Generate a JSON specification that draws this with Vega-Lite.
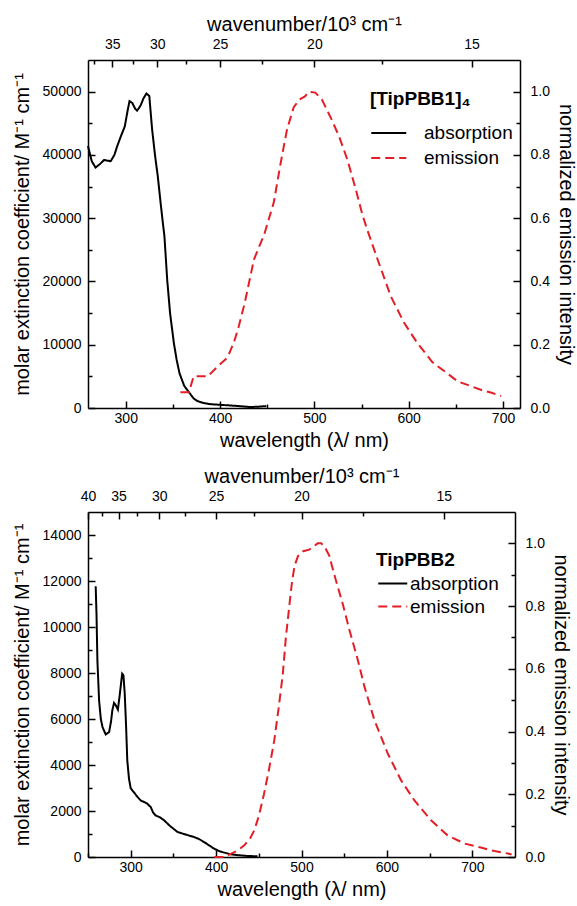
{
  "$schema": "https://vega.github.io/schema/vega-lite/v6.json",
  "padding": {"left": 12, "top": 14, "right": 5, "bottom": 5},
  "datasets": {
    "abs1": [
      {"wl":260,"v":41400,"series":"absorption"},{"wl":264,"v":39000,"series":"absorption"},{"wl":268,"v":38000,"series":"absorption"},{"wl":273,"v":38600,"series":"absorption"},{"wl":277,"v":39200,"series":"absorption"},{"wl":284,"v":39000,"series":"absorption"},{"wl":288,"v":40000,"series":"absorption"},{"wl":291,"v":41400,"series":"absorption"},{"wl":295,"v":43000,"series":"absorption"},{"wl":299,"v":44500,"series":"absorption"},{"wl":302,"v":47000,"series":"absorption"},{"wl":304,"v":48500,"series":"absorption"},{"wl":307,"v":48200,"series":"absorption"},{"wl":310,"v":47300,"series":"absorption"},{"wl":312,"v":47000,"series":"absorption"},{"wl":314,"v":47400,"series":"absorption"},{"wl":316,"v":47900,"series":"absorption"},{"wl":319,"v":49000,"series":"absorption"},{"wl":322,"v":49700,"series":"absorption"},{"wl":325,"v":49300,"series":"absorption"},{"wl":328,"v":44000,"series":"absorption"},{"wl":331,"v":40000,"series":"absorption"},{"wl":334,"v":36600,"series":"absorption"},{"wl":337,"v":32400,"series":"absorption"},{"wl":339,"v":29700,"series":"absorption"},{"wl":341,"v":27200,"series":"absorption"},{"wl":344,"v":20200,"series":"absorption"},{"wl":347,"v":15000,"series":"absorption"},{"wl":351,"v":10300,"series":"absorption"},{"wl":354,"v":7600,"series":"absorption"},{"wl":357,"v":5500,"series":"absorption"},{"wl":362,"v":3500,"series":"absorption"},{"wl":365.5,"v":2800,"series":"absorption"},{"wl":369,"v":2100,"series":"absorption"},{"wl":372,"v":1500,"series":"absorption"},{"wl":376,"v":1100,"series":"absorption"},{"wl":382,"v":800,"series":"absorption"},{"wl":390,"v":600,"series":"absorption"},{"wl":400,"v":500,"series":"absorption"},{"wl":411,"v":400,"series":"absorption"},{"wl":420,"v":300,"series":"absorption"},{"wl":432,"v":150,"series":"absorption"},{"wl":440,"v":200,"series":"absorption"},{"wl":449,"v":300,"series":"absorption"}
    ],
    "em1": [
      {"wl":358,"v":0.05,"series":"emission"},{"wl":367,"v":0.05,"series":"emission"},{"wl":372,"v":0.10,"series":"emission"},{"wl":380,"v":0.10,"series":"emission"},{"wl":387,"v":0.10,"series":"emission"},{"wl":397,"v":0.13,"series":"emission"},{"wl":408,"v":0.16,"series":"emission"},{"wl":415,"v":0.21,"series":"emission"},{"wl":420,"v":0.26,"series":"emission"},{"wl":426,"v":0.33,"series":"emission"},{"wl":436,"v":0.47,"series":"emission"},{"wl":447,"v":0.55,"series":"emission"},{"wl":457,"v":0.65,"series":"emission"},{"wl":464,"v":0.77,"series":"emission"},{"wl":471,"v":0.88,"series":"emission"},{"wl":478,"v":0.95,"series":"emission"},{"wl":484,"v":0.975,"series":"emission"},{"wl":490,"v":0.985,"series":"emission"},{"wl":494,"v":1.0,"series":"emission"},{"wl":501,"v":0.997,"series":"emission"},{"wl":508,"v":0.975,"series":"emission"},{"wl":517,"v":0.92,"series":"emission"},{"wl":526,"v":0.86,"series":"emission"},{"wl":535,"v":0.785,"series":"emission"},{"wl":544,"v":0.69,"series":"emission"},{"wl":551,"v":0.61,"series":"emission"},{"wl":556,"v":0.564,"series":"emission"},{"wl":567,"v":0.47,"series":"emission"},{"wl":581,"v":0.353,"series":"emission"},{"wl":595,"v":0.27,"series":"emission"},{"wl":609,"v":0.206,"series":"emission"},{"wl":625,"v":0.145,"series":"emission"},{"wl":638,"v":0.116,"series":"emission"},{"wl":652,"v":0.084,"series":"emission"},{"wl":666,"v":0.069,"series":"emission"},{"wl":678,"v":0.056,"series":"emission"},{"wl":688,"v":0.048,"series":"emission"},{"wl":698,"v":0.038,"series":"emission"}
    ],
    "abs2": [
      {"wl":259,"v":11770,"series":"absorption"},{"wl":260,"v":10500,"series":"absorption"},{"wl":261,"v":8550,"series":"absorption"},{"wl":263,"v":6800,"series":"absorption"},{"wl":265,"v":6000,"series":"absorption"},{"wl":267,"v":5650,"series":"absorption"},{"wl":270.7,"v":5330,"series":"absorption"},{"wl":274.7,"v":5430,"series":"absorption"},{"wl":277,"v":5900,"series":"absorption"},{"wl":278.5,"v":6380,"series":"absorption"},{"wl":280.5,"v":6700,"series":"absorption"},{"wl":282.5,"v":6600,"series":"absorption"},{"wl":285,"v":6410,"series":"absorption"},{"wl":287,"v":7000,"series":"absorption"},{"wl":290,"v":7970,"series":"absorption"},{"wl":291.5,"v":7900,"series":"absorption"},{"wl":293,"v":7110,"series":"absorption"},{"wl":294.5,"v":5800,"series":"absorption"},{"wl":296,"v":4200,"series":"absorption"},{"wl":298,"v":3400,"series":"absorption"},{"wl":300,"v":2990,"series":"absorption"},{"wl":304,"v":2800,"series":"absorption"},{"wl":308,"v":2610,"series":"absorption"},{"wl":312,"v":2450,"series":"absorption"},{"wl":315.7,"v":2390,"series":"absorption"},{"wl":319,"v":2330,"series":"absorption"},{"wl":323.5,"v":2170,"series":"absorption"},{"wl":326,"v":1950,"series":"absorption"},{"wl":329,"v":1810,"series":"absorption"},{"wl":334,"v":1730,"series":"absorption"},{"wl":339,"v":1600,"series":"absorption"},{"wl":346,"v":1350,"series":"absorption"},{"wl":354.7,"v":1090,"series":"absorption"},{"wl":364,"v":980,"series":"absorption"},{"wl":374,"v":870,"series":"absorption"},{"wl":380,"v":780,"series":"absorption"},{"wl":386,"v":650,"series":"absorption"},{"wl":392,"v":500,"series":"absorption"},{"wl":397.8,"v":360,"series":"absorption"},{"wl":404,"v":250,"series":"absorption"},{"wl":409.5,"v":190,"series":"absorption"},{"wl":417,"v":120,"series":"absorption"},{"wl":425,"v":80,"series":"absorption"},{"wl":435,"v":50,"series":"absorption"},{"wl":448.5,"v":30,"series":"absorption"}
    ],
    "em2": [
      {"wl":398,"v":0,"series":"emission"},{"wl":410,"v":0,"series":"emission"},{"wl":417,"v":0.01,"series":"emission"},{"wl":425,"v":0.02,"series":"emission"},{"wl":433,"v":0.037,"series":"emission"},{"wl":440,"v":0.06,"series":"emission"},{"wl":444.7,"v":0.085,"series":"emission"},{"wl":450,"v":0.13,"series":"emission"},{"wl":456,"v":0.2,"series":"emission"},{"wl":462,"v":0.28,"series":"emission"},{"wl":468,"v":0.37,"series":"emission"},{"wl":473,"v":0.47,"series":"emission"},{"wl":478,"v":0.58,"series":"emission"},{"wl":481.7,"v":0.7,"series":"emission"},{"wl":485.7,"v":0.8,"series":"emission"},{"wl":489,"v":0.88,"series":"emission"},{"wl":492,"v":0.93,"series":"emission"},{"wl":496,"v":0.96,"series":"emission"},{"wl":502,"v":0.975,"series":"emission"},{"wl":509,"v":0.98,"series":"emission"},{"wl":514,"v":0.99,"series":"emission"},{"wl":519,"v":1.0,"series":"emission"},{"wl":523,"v":1.0,"series":"emission"},{"wl":527,"v":0.99,"series":"emission"},{"wl":532.6,"v":0.96,"series":"emission"},{"wl":536,"v":0.925,"series":"emission"},{"wl":540,"v":0.885,"series":"emission"},{"wl":548,"v":0.81,"series":"emission"},{"wl":556,"v":0.725,"series":"emission"},{"wl":565.8,"v":0.63,"series":"emission"},{"wl":573.6,"v":0.544,"series":"emission"},{"wl":585.3,"v":0.437,"series":"emission"},{"wl":601,"v":0.33,"series":"emission"},{"wl":616.5,"v":0.245,"series":"emission"},{"wl":632,"v":0.181,"series":"emission"},{"wl":651.7,"v":0.117,"series":"emission"},{"wl":671,"v":0.069,"series":"emission"},{"wl":690.8,"v":0.043,"series":"emission"},{"wl":710,"v":0.03,"series":"emission"},{"wl":726,"v":0.019,"series":"emission"},{"wl":741.7,"v":0.011,"series":"emission"},{"wl":746,"v":0.008,"series":"emission"}
    ]
  },
  "vconcat": [
    {
      "width": 432,
      "height": 348,
      "layer": [
        {
          "data": {"name": "abs1"},
          "mark": {"type": "line", "strokeWidth": 2},
          "encoding": {
            "x": {"field": "wl", "type": "quantitative", "scale": {"domain": [260, 718], "nice": false, "zero": false},
              "axis": {"orient": "bottom", "title": "wavelength (λ/ nm)", "values": [300,350,400,450,500,550,600,650,700],
                "labelExpr": "datum.value % 100 === 0 ? datum.label : ''",
                "tickSize": {"condition": {"test": "datum.value % 100 === 0", "value": -7}, "value": -4},
                "labelPadding": 10, "titlePadding": 2}},
            "y": {"field": "v", "type": "quantitative", "scale": {"domain": [0, 55000], "nice": false},
              "axis": {"orient": "left", "title": "molar extinction coefficient/ M⁻¹ cm⁻¹", "values": [0,5000,10000,15000,20000,25000,30000,35000,40000,45000,50000],
                "labelExpr": "datum.value % 10000 === 0 ? datum.value : ''",
                "tickSize": {"condition": {"test": "datum.value % 10000 === 0", "value": -7}, "value": -4},
                "labelPadding": 14, "titlePadding": 10}},
            "color": {"field": "series", "type": "nominal", "scale": {"domain": ["absorption", "emission"], "range": ["#000000", "#e41e26"]},
              "legend": {"title": "[TipPBB1]₄", "orient": "none", "legendX": 282, "legendY": 30, "symbolType": "M-1,0H3", "symbolSize": 306, "labelOffset": 34, "rowPadding": 5, "titlePadding": 14}},
            "strokeDash": {"field": "series", "type": "nominal", "scale": {"domain": ["absorption", "emission"], "range": [[1, 0], [9, 5]]},
              "legend": {"title": "[TipPBB1]₄", "orient": "none", "legendX": 282, "legendY": 30, "symbolType": "M-1,0H3", "symbolSize": 306, "labelOffset": 34, "rowPadding": 5, "titlePadding": 14}}
          }
        },
        {
          "data": {"name": "em1"},
          "mark": {"type": "line", "strokeWidth": 2},
          "encoding": {
            "x": {"field": "wl", "type": "quantitative", "scale": {"domain": [260, 718], "nice": false, "zero": false},
              "axis": {"orient": "top", "title": "wavenumber/10³ cm⁻¹",
                "values": [266.6667,285.7143,307.6923,333.3333,363.6364,400,444.4444,500,571.4286,666.6667],
                "labelExpr": "abs(10000/datum.value - round(10000/datum.value)) < 0.01 ? '' + round(10000/datum.value) : ''",
                "tickSize": {"condition": {"test": "abs(10000/datum.value - round(10000/datum.value)) < 0.01", "value": -7}, "value": -4},
                "labelPadding": 16, "titlePadding": 0}},
            "y": {"field": "v", "type": "quantitative", "scale": {"domain": [0, 1.1], "nice": false},
              "axis": {"orient": "right", "title": "normalized emission intensity", "values": [0,0.1,0.2,0.3,0.4,0.5,0.6,0.7,0.8,0.9,1.0],
                "labelExpr": "round(datum.value*10) % 2 === 0 ? format(datum.value, '.1f') : ''",
                "tickSize": {"condition": {"test": "round(datum.value*10) % 2 === 0", "value": -7}, "value": -4},
                "labelPadding": 17, "titlePadding": 6}},
            "color": {"field": "series", "type": "nominal"},
            "strokeDash": {"field": "series", "type": "nominal"}
          }
        }
      ],
      "resolve": {"scale": {"x": "independent", "y": "independent"}}
    },
    {
      "width": 427,
      "height": 345,
      "layer": [
        {
          "data": {"name": "abs2"},
          "mark": {"type": "line", "strokeWidth": 2},
          "encoding": {
            "x": {"field": "wl", "type": "quantitative", "scale": {"domain": [250, 750], "nice": false, "zero": false},
              "axis": {"orient": "bottom", "title": "wavelength (λ/ nm)", "values": [250,300,350,400,450,500,550,600,650,700],
                "labelExpr": "datum.value % 100 === 0 ? datum.label : ''",
                "tickSize": {"condition": {"test": "datum.value % 100 === 0", "value": -7}, "value": -4},
                "labelPadding": 10, "titlePadding": 2}},
            "y": {"field": "v", "type": "quantitative", "scale": {"domain": [0, 15000], "nice": false},
              "axis": {"orient": "left", "title": "molar extinction coefficient/ M⁻¹ cm⁻¹", "values": [0,1000,2000,3000,4000,5000,6000,7000,8000,9000,10000,11000,12000,13000,14000],
                "labelExpr": "datum.value % 2000 === 0 ? datum.value : ''",
                "tickSize": {"condition": {"test": "datum.value % 2000 === 0", "value": -7}, "value": -4},
                "labelPadding": 14, "titlePadding": 10}},
            "color": {"field": "series", "type": "nominal", "scale": {"domain": ["absorption", "emission"], "range": ["#000000", "#e41e26"]},
              "legend": {"title": "TipPBB2", "orient": "none", "legendX": 288, "legendY": 39, "symbolType": "M-1,0H3", "symbolSize": 210, "labelOffset": 15, "rowPadding": 3, "titlePadding": 4}},
            "strokeDash": {"field": "series", "type": "nominal", "scale": {"domain": ["absorption", "emission"], "range": [[1, 0], [9, 5]]},
              "legend": {"title": "TipPBB2", "orient": "none", "legendX": 288, "legendY": 39, "symbolType": "M-1,0H3", "symbolSize": 210, "labelOffset": 15, "rowPadding": 3, "titlePadding": 4}}
          }
        },
        {
          "data": {"name": "em2"},
          "mark": {"type": "line", "strokeWidth": 2},
          "encoding": {
            "x": {"field": "wl", "type": "quantitative", "scale": {"domain": [250, 750], "nice": false, "zero": false},
              "axis": {"orient": "top", "title": "wavenumber/10³ cm⁻¹",
                "values": [250,266.6667,285.7143,307.6923,333.3333,363.6364,400,444.4444,500,571.4286,666.6667],
                "labelExpr": "abs(10000/datum.value - round(10000/datum.value)) < 0.01 ? '' + round(10000/datum.value) : ''",
                "tickSize": {"condition": {"test": "abs(10000/datum.value - round(10000/datum.value)) < 0.01", "value": -7}, "value": -4},
                "labelPadding": 16, "titlePadding": 0}},
            "y": {"field": "v", "type": "quantitative", "scale": {"domain": [0, 1.1], "nice": false},
              "axis": {"orient": "right", "title": "normalized emission intensity", "values": [0,0.1,0.2,0.3,0.4,0.5,0.6,0.7,0.8,0.9,1.0],
                "labelExpr": "round(datum.value*10) % 2 === 0 ? format(datum.value, '.1f') : ''",
                "tickSize": {"condition": {"test": "round(datum.value*10) % 2 === 0", "value": -7}, "value": -4},
                "labelPadding": 17, "titlePadding": 6}},
            "color": {"field": "series", "type": "nominal"},
            "strokeDash": {"field": "series", "type": "nominal"}
          }
        }
      ],
      "resolve": {"scale": {"x": "independent", "y": "independent"}}
    }
  ],
  "spacing": 16,
  "resolve": {"scale": {"color": "independent", "strokeDash": "independent"}, "legend": {"color": "independent", "strokeDash": "independent"}},
  "config": {
    "font": "Liberation Sans",
    "view": {"stroke": null},
    "axis": {"grid": false, "domainColor": "#000000", "domainWidth": 1.5, "tickColor": "#000000", "tickWidth": 1.5,
      "labelColor": "#000000", "labelFontSize": 14, "titleFontSize": 20, "titleFontWeight": "normal", "titleColor": "#000000",
      "labelFlush": false, "labelOverlap": false},
    "legend": {"titleFontSize": 19, "titleFontWeight": "bold", "titleColor": "#000000", "labelFontSize": 19, "labelColor": "#000000",
      "symbolStrokeWidth": 2}
  }
}
